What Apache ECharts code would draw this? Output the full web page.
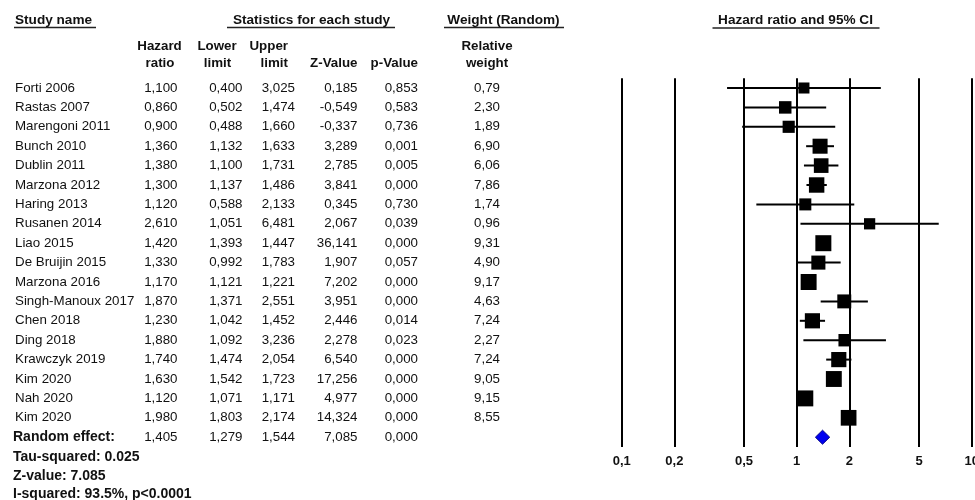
<!DOCTYPE html>
<html><head><meta charset="utf-8">
<script src="https://cdn.jsdelivr.net/npm/echarts@6/dist/echarts.min.js"></script>
<style>html,body{margin:0;padding:0;background:#fff}#c{width:975px;height:500px}</style>
</head><body><div id="c"></div>
<script>
// ---- data ----
const studies = ['Forti 2006','Rastas 2007','Marengoni 2011','Bunch 2010','Dublin 2011','Marzona 2012','Haring 2013','Rusanen 2014','Liao 2015','De Bruijin 2015','Marzona 2016','Singh-Manoux 2017','Chen 2018','Ding 2018','Krawczyk 2019','Kim 2020','Nah 2020','Kim 2020'];
const hazardRatio = [1.100,0.860,0.900,1.360,1.380,1.300,1.120,2.610,1.420,1.330,1.170,1.870,1.230,1.880,1.740,1.630,1.120,1.980];
const lowerLimit = [0.400,0.502,0.488,1.132,1.100,1.137,0.588,1.051,1.393,0.992,1.121,1.371,1.042,1.092,1.474,1.542,1.071,1.803];
const upperLimit = [3.025,1.474,1.660,1.633,1.731,1.486,2.133,6.481,1.447,1.783,1.221,2.551,1.452,3.236,2.054,1.723,1.171,2.174];
const zValue = [0.185,-0.549,-0.337,3.289,2.785,3.841,0.345,2.067,36.141,1.907,7.202,3.951,2.446,2.278,6.540,17.256,4.977,14.324];
const pValue = [0.853,0.583,0.736,0.001,0.005,0.000,0.730,0.039,0.000,0.057,0.000,0.000,0.014,0.023,0.000,0.000,0.000,0.000];
const relWeight = [0.79,2.30,1.89,6.90,6.06,7.86,1.74,0.96,9.31,4.90,9.17,4.63,7.24,2.27,7.24,9.05,9.15,8.55];
const pooledLabel = 'Random effect:';
const pooledValues = [1.405,1.279,1.544,7.085,0.000]; // HR, lower, upper, Z, p
const tickValues = [0.1,0.2,0.5,1,2,5,10];
const tickLabels = ['0,1','0,2','0,5','1','2','5','10'];
const footLines = ['Tau-squared: 0.025','Z-value: 7.085','I-squared: 93.5%, p<0.0001'];

// ---- helpers ----
const FONT = "'Liberation Sans', Arial, sans-serif";
const f3 = v => v.toFixed(3).replace('.', ',');
const f2 = v => v.toFixed(2).replace('.', ',');
const nRows = studies.length + 1;
const rowIdx = Array.from({length: nRows}, (_, i) => String(i));

const colHR = hazardRatio.map(f3).concat([f3(pooledValues[0])]);
const colLo = lowerLimit.map(f3).concat([f3(pooledValues[1])]);
const colUp = upperLimit.map(f3).concat([f3(pooledValues[2])]);
const colZ = zValue.map(f3).concat([f3(pooledValues[3])]);
const colP = pValue.map(f3).concat([f3(pooledValues[4])]);
const colW = relWeight.map(f2).concat(['']);

const GL = 621.7, GT = 78.3, GH = 368.6;
const DATA_FS = 13.33;

function colAxis(anchor, align, texts, rich) {
  return {
    type: 'category', data: rowIdx, inverse: true, gridIndex: 0,
    position: 'left', offset: GL - anchor,
    axisLine: {show: false}, axisTick: {show: false}, splitLine: {show: false},
    axisLabel: {
      show: true, margin: 0, align: align, interval: 0,
      fontFamily: FONT, fontSize: DATA_FS, color: '#111',
      formatter: (v) => texts[+v], rich: rich || {}
    }
  };
}
const nameTexts = studies.concat(['{b|' + pooledLabel + '}']);

const forestData = studies.map((s, i) => [hazardRatio[i], i, lowerLimit[i], upperLimit[i], relWeight[i]]);
const maxW = Math.max.apply(null, relWeight);

const hdr = (text, x, y, align, size) => ({type: 'text', x: x, y: y, style: {text: text, fontFamily: FONT, fontSize: size || 13.33, fontWeight: 'bold', fill: '#111', align: align, verticalAlign: 'middle'}});
const uline = (x1, x2, y) => ({type: 'line', shape: {x1: x1, y1: y, x2: x2, y2: y}, style: {stroke: '#222', lineWidth: 1.3}});

const chart = echarts.init(document.getElementById('c'), null, {renderer: 'canvas'});
chart.setOption({
  animation: false,
  backgroundColor: '#fff',
  grid: {left: GL, top: GT, height: GH, right: 975 - 971.7, containLabel: false},
  xAxis: {type: 'log', logBase: 10, min: 0.1, max: 10, show: false},
  yAxis: [
    {type: 'category', data: rowIdx, inverse: true, show: false},
    colAxis(15, 'left', nameTexts, {b: {fontWeight: 'bold', fontSize: 14, fontFamily: FONT, color: '#111', padding: [0, 0, 0, -2]}}),
    colAxis(177.5, 'right', colHR),
    colAxis(242.5, 'right', colLo),
    colAxis(295, 'right', colUp),
    colAxis(357.5, 'right', colZ),
    colAxis(418, 'right', colP),
    colAxis(487, 'center', colW)
  ],
  series: [
    {
      type: 'custom', xAxisIndex: 0, yAxisIndex: 0,
      data: forestData, encode: {x: [0, 2, 3], y: 1},
      renderItem: function (params, api) {
        const i = api.value(1);
        const lo = api.coord([api.value(2), i]);
        const hi = api.coord([api.value(3), i]);
        const c = api.coord([api.value(0), i]);
        const s = 9 + 7 * Math.sqrt(api.value(4) / maxW);
        return {type: 'group', children: [
          {type: 'line', shape: {x1: lo[0], y1: lo[1], x2: hi[0], y2: hi[1]}, style: {stroke: '#000', lineWidth: 2}},
          {type: 'rect', shape: {x: c[0] - s / 2, y: c[1] - s / 2, width: s, height: s}, style: {fill: '#000'}}
        ]};
      },
      markLine: {
        silent: true, symbol: 'none', animation: false,
        lineStyle: {color: '#000', type: 'solid', width: 2},
        label: {show: true, position: 'end', distance: 8, fontFamily: FONT, fontSize: 13, fontWeight: 'bold', color: '#111',
          formatter: p => tickLabels[tickValues.indexOf(p.value)]},
        data: tickValues.map(v => ({xAxis: v}))
      },
      z: 3
    },
    {
      type: 'custom', xAxisIndex: 0, yAxisIndex: 0,
      data: [[pooledValues[0], studies.length, pooledValues[1], pooledValues[2]]], encode: {x: [0, 2, 3], y: 1},
      renderItem: function (params, api) {
        const i = api.value(1);
        const lo = api.coord([api.value(2), i]);
        const hi = api.coord([api.value(3), i]);
        const c = api.coord([api.value(0), i]);
        const h = 7;
        return {type: 'polygon', shape: {points: [[lo[0], c[1]], [c[0], c[1] - h], [hi[0], c[1]], [c[0], c[1] + h]]},
          style: {fill: '#0000f0', stroke: '#00008a', lineWidth: 1}};
      },
      z: 4
    }
  ],
  graphic: [
    hdr('Study name', 15, 20, 'left', 13.6), uline(14, 96, 27.5),
    hdr('Statistics for each study', 311.5, 20, 'center', 13.6), uline(227, 395, 27.5),
    hdr('Weight (Random)', 503.5, 20, 'center', 13.6), uline(444, 564, 27.5),
    hdr('Hazard ratio and 95% CI', 795.5, 20, 'center', 13.6), uline(712.5, 879.5, 28),
    hdr('Hazard', 159.5, 46, 'center'), hdr('ratio', 160, 63, 'center'),
    hdr('Lower', 217, 46, 'center'), hdr('limit', 217.5, 63, 'center'),
    hdr('Upper', 288, 46, 'right'), hdr('limit', 288, 63, 'right'),
    hdr('Z-Value', 357.5, 63, 'right'), hdr('p-Value', 418, 63, 'right'),
    hdr('Relative', 487, 46, 'center'), hdr('weight', 487, 63, 'center'),
    hdr(footLines[0], 13, 457, 'left', 14),
    hdr(footLines[1], 13, 476, 'left', 14),
    hdr(footLines[2], 13, 494, 'left', 14)
  ]
});
</script></body></html>
